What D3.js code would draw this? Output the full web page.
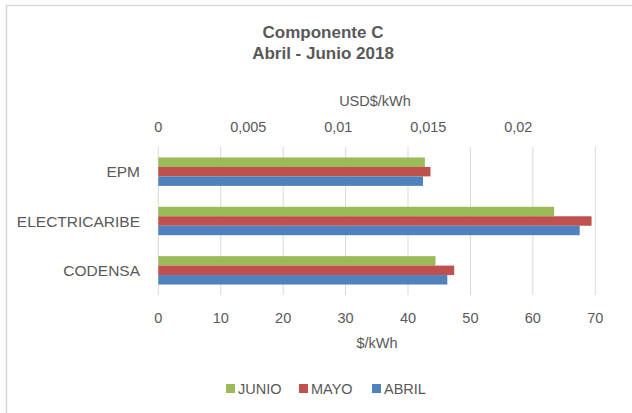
<!DOCTYPE html>
<html><head><meta charset="utf-8">
<script src="https://cdn.jsdelivr.net/npm/d3@7"></script>
<style>body{margin:0;background:#fff}svg{display:block}text{font-family:"Liberation Sans",Arial,sans-serif;fill:#595959}</style>
</head><body><svg id="c" width="632" height="413"></svg>
<script>
const categories = ["EPM","ELECTRICARIBE","CODENSA"];
const seriesNames = ["JUNIO","MAYO","ABRIL"];
const junio = [42.7, 63.4, 44.4];
const mayo  = [43.6, 69.4, 47.4];
const abril = [42.4, 67.5, 46.3];
const bottomTicks = [0,10,20,30,40,50,60,70];
const topTicks = [0,0.005,0.01,0.015,0.02];
const colors = ["#9BBB59","#C0504D","#4F81BD"];
const values = [junio, mayo, abril];

const svg = d3.select("#c");
svg.append("rect").attr("x",6.5).attr("y",5.5).attr("width",640).attr("height",420)
  .attr("fill","#fff").attr("stroke","#d9d9d9").attr("stroke-width",1.5);

const L=158.3, R=595.3, T=147, B=295;
const x = d3.scaleLinear().domain([0,70]).range([L,R]);
const xTop = d3.scaleLinear().domain([0,0.02428]).range([L,R]);
const y = d3.scaleBand().domain(categories).range([T,B]).paddingInner(0.424).paddingOuter(0.212);
const ys = d3.scaleBand().domain(seriesNames).range([0,y.bandwidth()]);

// gridlines
svg.append("g").selectAll("line").data(bottomTicks).join("line")
  .attr("x1",d=>x(d)).attr("x2",d=>x(d)).attr("y1",T).attr("y2",B)
  .attr("stroke","#d9d9d9").attr("stroke-width",1);

// bars
const rows=[];
categories.forEach((c,i)=>seriesNames.forEach((s,j)=>rows.push({c,s,v:values[j][i],col:colors[j]})));
svg.append("g").selectAll("rect").data(rows).join("rect")
  .attr("x",x(0)).attr("y",d=>y(d.c)+ys(d.s)).attr("width",d=>x(d.v)-x(0)).attr("height",ys.bandwidth())
  .attr("fill",d=>d.col);

// bottom axis
const fmtB = d3.format("d");
svg.append("g").selectAll("text").data(bottomTicks).join("text")
  .attr("x",d=>x(d)).attr("y",323).attr("text-anchor","middle").style("font-size","14.5px").text(fmtB);
// top axis
const fmtT = d => d3.format("")(d).replace(".",",");
svg.append("g").selectAll("text").data(topTicks).join("text")
  .attr("x",d=>xTop(d)).attr("y",132).attr("text-anchor","middle").style("font-size","14.5px").text(fmtT);

// category labels
svg.append("g").selectAll("text").data(categories).join("text")
  .attr("x",140).attr("y",d=>y(d)+y.bandwidth()/2+5.5).attr("text-anchor","end").style("font-size","15.5px").text(d=>d);

// axis titles
svg.append("text").attr("x",377).attr("y",348).attr("text-anchor","middle").style("font-size","14.5px").text("$/kWh");
svg.append("text").attr("x",375).attr("y",106).attr("text-anchor","middle").style("font-size","14.5px").text("USD$/kWh");

// title
svg.append("text").attr("x",323).attr("y",38).attr("text-anchor","middle").style("font-size","17px").style("font-weight","bold").text("Componente C");
svg.append("text").attr("x",323).attr("y",59).attr("text-anchor","middle").style("font-size","17px").style("font-weight","bold").text("Abril - Junio 2018");

// legend
const legX=[226,299,372];
const lg = svg.append("g").selectAll("g").data(seriesNames).join("g").attr("transform",(d,i)=>`translate(${legX[i]},389)`);
lg.append("rect").attr("x",0).attr("y",-5).attr("width",9).attr("height",9).attr("fill",(d,i)=>colors[i]);
lg.append("text").attr("x",12).attr("y",5).style("font-size","14.5px").text(d=>d);
</script></body></html>
